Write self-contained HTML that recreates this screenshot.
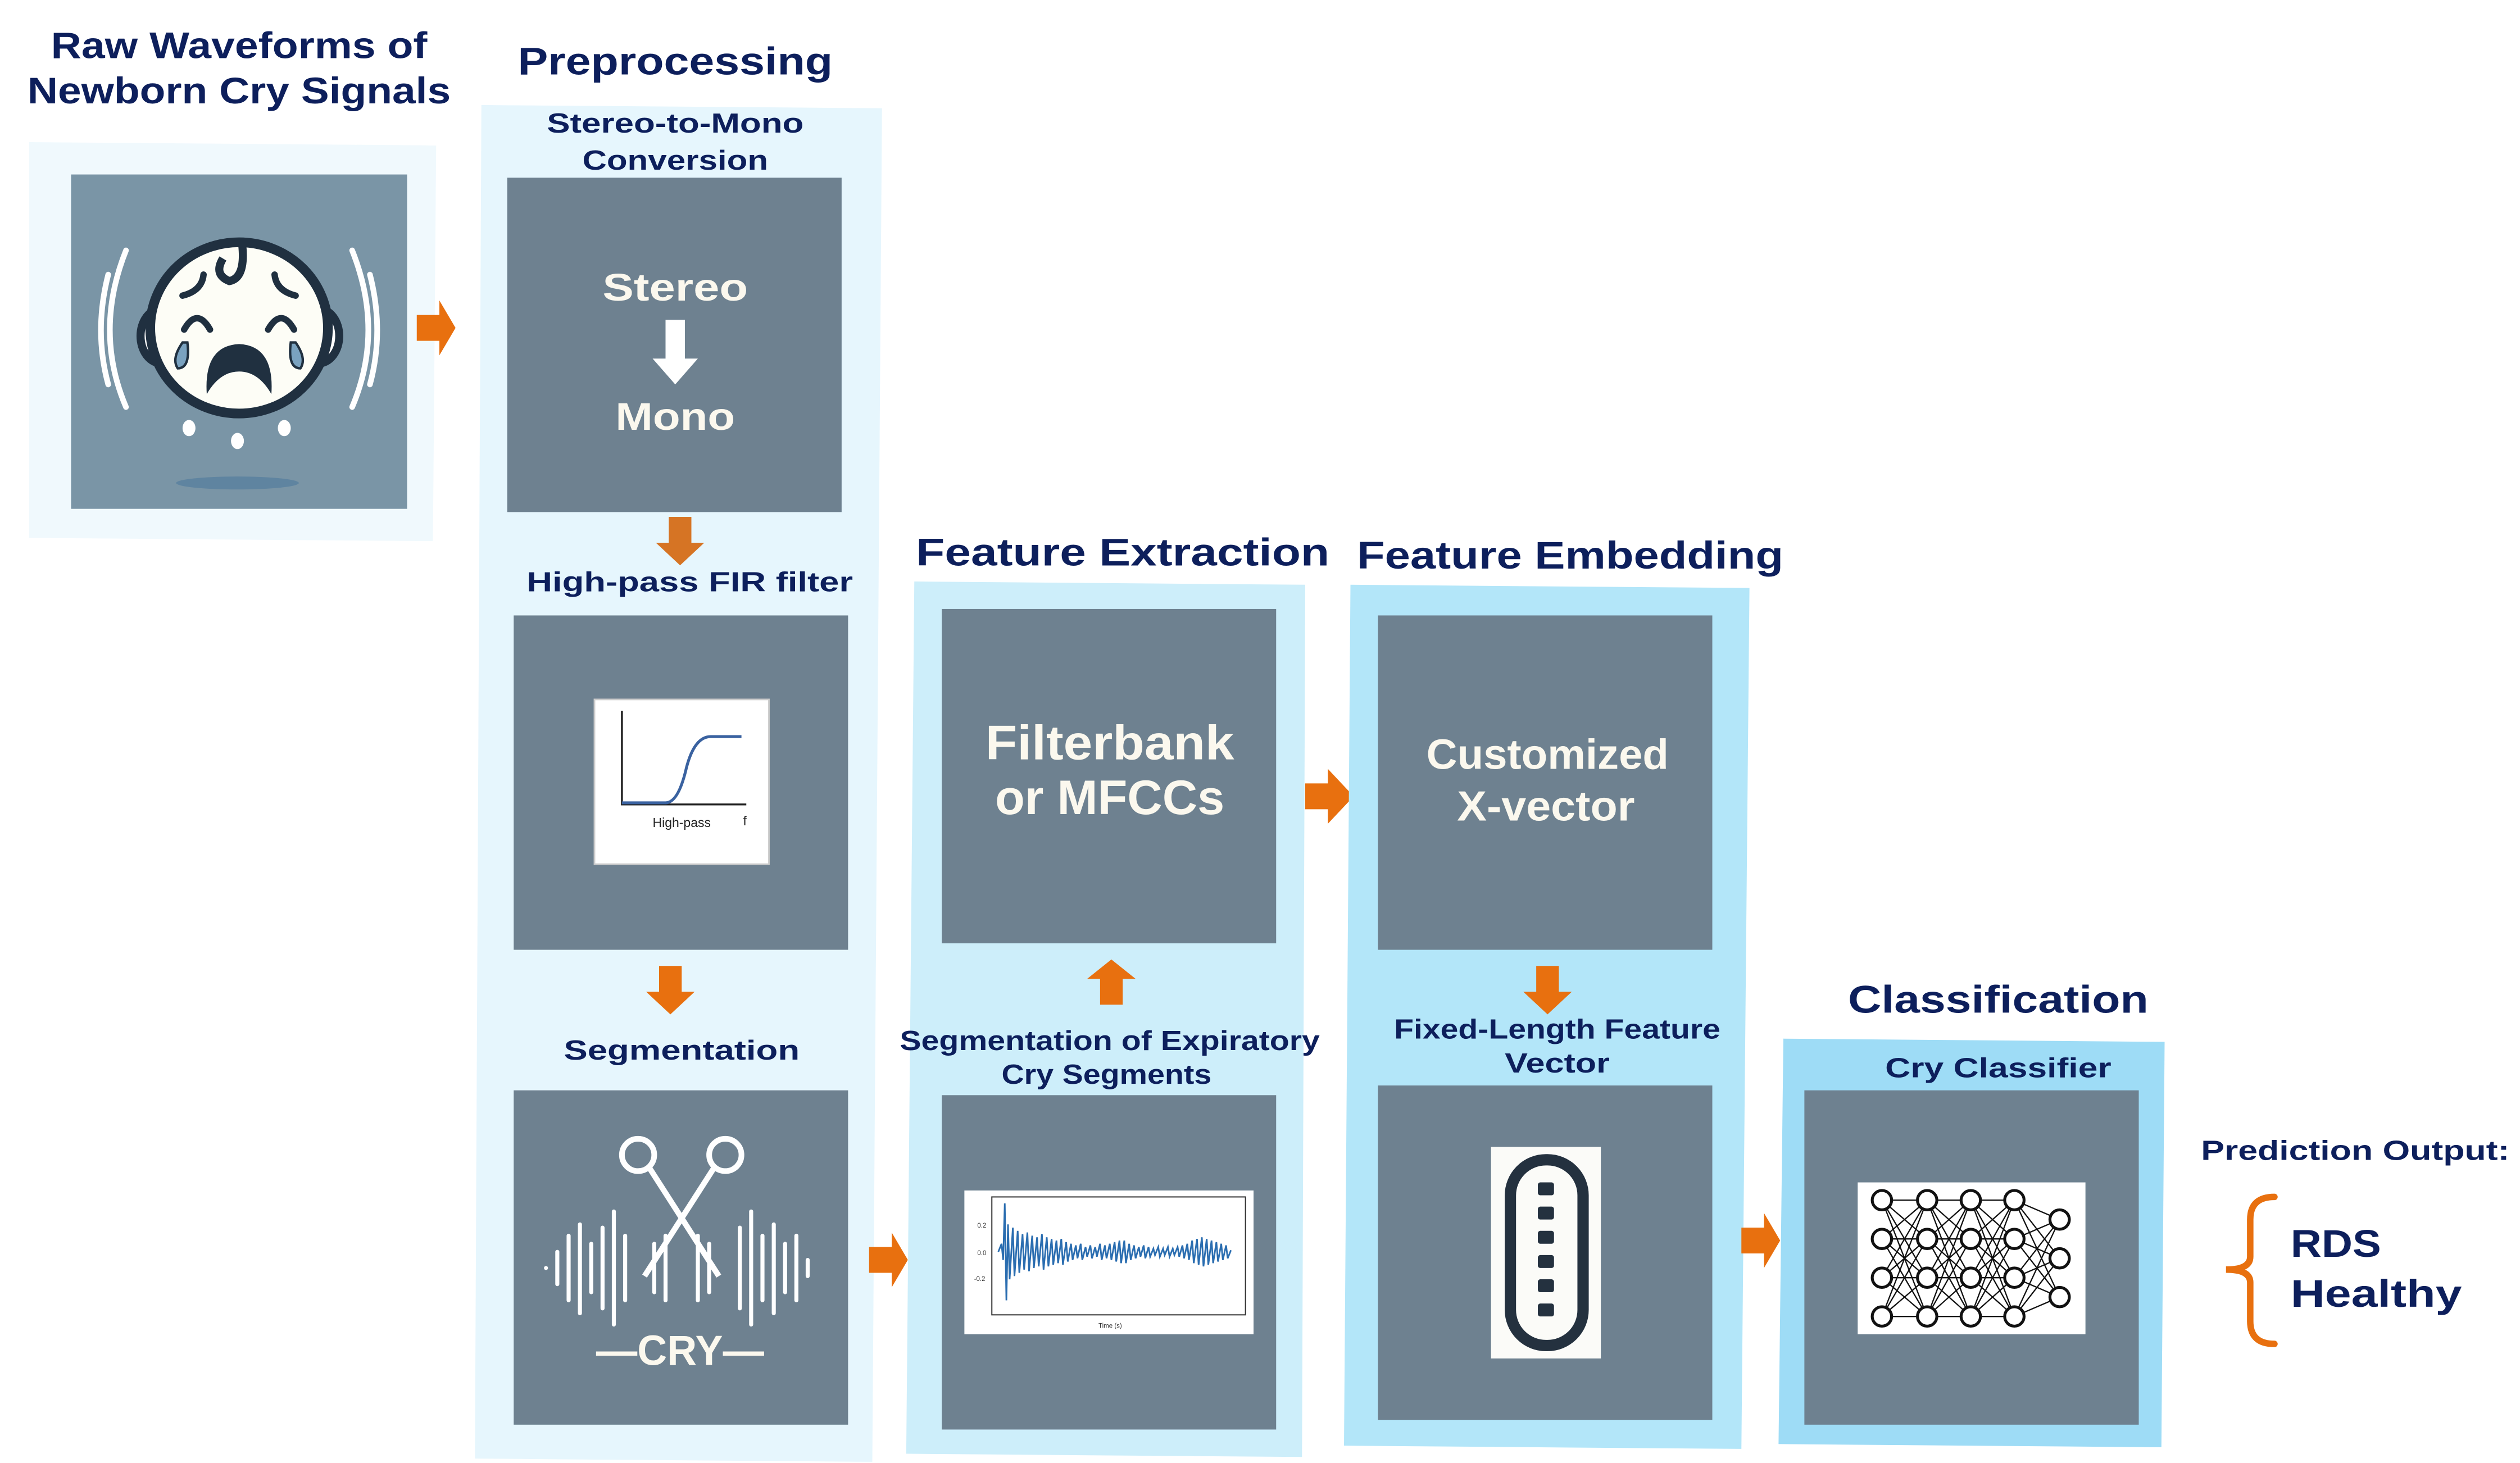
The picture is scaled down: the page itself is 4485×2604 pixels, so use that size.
<!DOCTYPE html>
<html><head><meta charset="utf-8"><style>html,body{margin:0;padding:0;background:#fff}svg{display:block}</style></head>
<body>
<svg width="4485" height="2604" viewBox="0 0 1560 905.7" xmlns="http://www.w3.org/2000/svg">
<defs>
<style>
.t{font-family:"Liberation Sans Narrow","Liberation Sans",sans-serif;font-weight:bold;fill:#0d1f5c}
.w{font-family:"Liberation Sans Narrow","Liberation Sans",sans-serif;font-weight:bold;fill:#fbf8ee}
</style>
<g id="ra"><path d="M0,-8 L14,-8 L14,-17 L24,0 L14,17 L14,8 L0,8 Z" fill="#e8700f"/></g>
</defs>
<rect width="1560" height="905.7" fill="#fff"/>

<!-- Raw waveforms -->
<text class="t" x="148" y="36" font-size="23" text-anchor="middle" textLength="233" lengthAdjust="spacingAndGlyphs">Raw Waveforms of</text>
<text class="t" x="148" y="64" font-size="23" text-anchor="middle" textLength="262" lengthAdjust="spacingAndGlyphs">Newborn Cry Signals</text>
<polygon points="18,88 270,90 268,335 18,333" fill="#f0f9fd"/>
<rect x="44" y="108" width="208" height="207" fill="#7a95a6"/>
<g fill="none" stroke="#fff" stroke-width="3.5" stroke-linecap="round">
<path d="M78,155 Q58,205 78,252"/><path d="M67,170 Q58,205 67,238"/>
<path d="M218,155 Q238,205 218,252"/><path d="M229,170 Q238,205 229,238"/>
</g>
<ellipse cx="100" cy="208" rx="13" ry="17" fill="#fff" stroke="#203040" stroke-width="5"/>
<ellipse cx="197" cy="208" rx="13" ry="17" fill="#fff" stroke="#203040" stroke-width="5"/>
<ellipse cx="148" cy="203" rx="55" ry="53" fill="#fdfdf6" stroke="#203040" stroke-width="6"/>
<path d="M150,152 Q152,172 142,174 Q132,170 138,160" fill="none" stroke="#203040" stroke-width="5"/>
<g fill="none" stroke="#203040" stroke-width="4" stroke-linecap="round">
<path d="M113,183 Q125,180 126,170"/><path d="M183,183 Q171,180 170,170"/>
<path d="M114,204 Q122,190 130,204"/><path d="M166,204 Q174,190 182,204"/>
</g>
<path d="M128,244 Q126,214 148,213 Q170,214 168,244 Q160,230 148,230 Q136,230 128,244 Z" fill="#203040"/>
<path d="M113,212 Q106,222 110,228 Q118,228 116,212 Z" fill="#7aa2c0" stroke="#203040" stroke-width="1.5"/>
<path d="M183,212 Q190,222 186,228 Q178,228 180,212 Z" fill="#7aa2c0" stroke="#203040" stroke-width="1.5"/>
<ellipse cx="117" cy="265" rx="4" ry="5" fill="#fff"/><ellipse cx="147" cy="273" rx="4" ry="5" fill="#fff"/><ellipse cx="176" cy="265" rx="4" ry="5" fill="#fff"/>
<ellipse cx="147" cy="299" rx="38" ry="4" fill="#5f84a0"/>

<use href="#ra" x="258" y="203"/>

<!-- Preprocessing -->
<text class="t" x="418" y="46" font-size="24" text-anchor="middle" textLength="195" lengthAdjust="spacingAndGlyphs">Preprocessing</text>
<polygon points="298,65 546,67 540,905 294,903" fill="#e6f6fd"/>
<text class="t" x="418" y="82" font-size="17" text-anchor="middle" textLength="159" lengthAdjust="spacingAndGlyphs">Stereo-to-Mono</text>
<text class="t" x="418" y="105" font-size="17" text-anchor="middle" textLength="115" lengthAdjust="spacingAndGlyphs">Conversion</text>
<rect x="314" y="110" width="207" height="207" fill="#6e8190"/>
<text class="w" x="418" y="186" font-size="24" text-anchor="middle" textLength="90" lengthAdjust="spacingAndGlyphs" fill="#fff">Stereo</text>
<path d="M412,198 L424,198 L424,222 L432,222 L418,238 L404,222 L412,222 Z" fill="#fff"/>
<text class="w" x="418" y="266" font-size="24" text-anchor="middle" textLength="74" lengthAdjust="spacingAndGlyphs">Mono</text>
<path d="M414,320 L428,320 L428,336 L436,336 L421,350 L406,336 L414,336 Z" fill="#d67424"/>
<text class="t" x="427" y="366" font-size="17" text-anchor="middle" textLength="202" lengthAdjust="spacingAndGlyphs">High-pass FIR filter</text>
<rect x="318" y="381" width="207" height="207" fill="#6e8190"/>
<rect x="368" y="433" width="108" height="102" fill="#fff" stroke="#ccc" stroke-width="1"/>
<path d="M385,440 L385,498 L462,498" fill="none" stroke="#222" stroke-width="1.2"/>
<path d="M385,497 L412,497 Q420,497 425,475 Q430,456 440,456 L459,456" fill="none" stroke="#3a62a0" stroke-width="1.8"/>
<text x="422" y="512" font-family="Liberation Sans,sans-serif" font-size="8" text-anchor="middle" fill="#222">High-pass</text>
<text x="460" y="511" font-family="Liberation Sans,sans-serif" font-size="8" fill="#222">f</text>
<path d="M408,598 L422,598 L422,614 L430,614 L415,628 L400,614 L408,614 Z" fill="#e8700f"/>
<text class="t" x="422" y="656" font-size="17" text-anchor="middle" textLength="146" lengthAdjust="spacingAndGlyphs">Segmentation</text>
<rect x="318" y="675" width="207" height="207" fill="#6e8190"/>
<g fill="none" stroke="#fff" stroke-width="3.5">
<circle cx="395" cy="715" r="10"/><circle cx="449" cy="715" r="10"/>
<path d="M402,723 L445,790"/><path d="M442,723 L399,790"/>
</g>
<g stroke="#fff" stroke-width="2.5" stroke-linecap="round">
<path d="M338,785 v0 M345,775 v20 M352,765 v40 M359,758 v55 M366,770 v30 M373,760 v50 M380,750 v70 M387,765 v40"/>
<path d="M458,760 v50 M465,750 v70 M472,765 v40 M479,758 v55 M486,770 v30 M493,765 v40 M500,780 v10"/>
<path d="M405,770 v30 M412,765 v40 M432,765 v40 M439,770 v30"/>
</g>
<text class="w" x="421" y="845" font-size="26" text-anchor="middle" fill="#e8edf0" textLength="104" lengthAdjust="spacingAndGlyphs">—CRY—</text>

<use href="#ra" x="538" y="780"/>

<!-- Feature Extraction -->
<text class="t" x="695" y="350" font-size="24" text-anchor="middle" textLength="256" lengthAdjust="spacingAndGlyphs">Feature Extraction</text>
<polygon points="566,360 808,362 806,902 561,900" fill="#cdeefa"/>
<rect x="583" y="377" width="207" height="207" fill="#6e8190"/>
<text class="w" x="687" y="470" font-size="30" text-anchor="middle" textLength="154" lengthAdjust="spacingAndGlyphs">Filterbank</text>
<text class="w" x="687" y="504" font-size="30" text-anchor="middle" textLength="142" lengthAdjust="spacingAndGlyphs">or MFCCs</text>
<path d="M681,622 L695,622 L695,606 L703,606 L688,594 L673,606 L681,606 Z" fill="#e8700f"/>
<text class="t" x="687" y="650" font-size="17" text-anchor="middle" textLength="260" lengthAdjust="spacingAndGlyphs">Segmentation of Expiratory</text>
<text class="t" x="685" y="671" font-size="17" text-anchor="middle" textLength="130" lengthAdjust="spacingAndGlyphs">Cry Segments</text>
<rect x="583" y="678" width="207" height="207" fill="#6e8190"/>
<rect x="597" y="737" width="179" height="89" fill="#fff"/>
<rect x="614" y="741" width="157" height="73" fill="none" stroke="#333" stroke-width="0.7"/>
<polyline fill="none" stroke="#2a6db0" stroke-width="1" points="618,775 620,770 621,780 622,745 623,805 624,758 625,792 627,760 628,790 630,762 631,788 633,764 634,786 636,763 637,787 639,765 640,785 642,766 643,784 645,764 646,786 648,766 649,784 651,767 652,783 654,768 655,782 657,767 658,783 660,769 661,781 663,770 664,780 666,771 667,779 669,770 670,780 672,772 673,778 675,771 676,779 678,772 679,778 681,770 682,780 684,771 685,779 687,770 688,780 690,769 691,781 693,768 694,782 696,768 697,782 699,770 700,780 702,771 703,779 705,772 706,778 708,771 709,779 711,772 712,778 714,773 715,777 717,772 718,778 720,773 721,777 723,772 724,778 726,773 727,777 729,772 730,778 732,771 733,779 735,770 736,780 738,768 739,782 741,767 742,783 744,766 745,784 747,767 748,783 750,768 751,782 753,769 754,781 756,770 757,780 759,771 760,779 762,774"/>
<g font-family="Liberation Sans,sans-serif" font-size="4" fill="#333"><text x="605" y="760">0.2</text><text x="605" y="777">0.0</text><text x="603" y="793">-0.2</text><text x="680" y="822">Time (s)</text></g>

<path d="M808,485 L822,485 L822,476 L838,493 L822,510 L822,501 L808,501 Z" fill="#e8700f"/>

<!-- Feature Embedding -->
<text class="t" x="972" y="352" font-size="24" text-anchor="middle" textLength="264" lengthAdjust="spacingAndGlyphs">Feature Embedding</text>
<polygon points="836,362 1083,364 1078,897 832,895" fill="#b3e6f9"/>
<rect x="853" y="381" width="207" height="207" fill="#6e8190"/>
<text class="w" x="958" y="476" font-size="26" text-anchor="middle" textLength="150" lengthAdjust="spacingAndGlyphs" fill="#fff">Customized</text>
<text class="w" x="957" y="508" font-size="26" text-anchor="middle" textLength="110" lengthAdjust="spacingAndGlyphs" fill="#fff">X-vector</text>
<path d="M951,598 L965,598 L965,614 L973,614 L958,628 L943,614 L951,614 Z" fill="#e8700f"/>
<text class="t" x="964" y="643" font-size="17" text-anchor="middle" textLength="202" lengthAdjust="spacingAndGlyphs">Fixed-Length Feature</text>
<text class="t" x="964" y="664" font-size="17" text-anchor="middle" textLength="65" lengthAdjust="spacingAndGlyphs">Vector</text>
<rect x="853" y="672" width="207" height="207" fill="#6e8190"/>
<rect x="923" y="710" width="68" height="131" fill="#fbfbf8"/>
<rect x="935" y="718" width="45" height="115" rx="22" fill="none" stroke="#24313f" stroke-width="7"/>
<g fill="#24313f"><rect x="952" y="732" width="10" height="8" rx="1.5"/><rect x="952" y="747" width="10" height="8" rx="1.5"/><rect x="952" y="762" width="10" height="8" rx="1.5"/><rect x="952" y="777" width="10" height="8" rx="1.5"/><rect x="952" y="792" width="10" height="8" rx="1.5"/><rect x="952" y="807" width="10" height="8" rx="1.5"/></g>

<use href="#ra" x="1078" y="768"/>

<!-- Classification -->
<text class="t" x="1237" y="627" font-size="24" text-anchor="middle" textLength="186" lengthAdjust="spacingAndGlyphs">Classification</text>
<polygon points="1104,643 1340,645 1338,896 1101,894" fill="#9edcf6"/>
<text class="t" x="1237" y="667" font-size="17" text-anchor="middle" textLength="140" lengthAdjust="spacingAndGlyphs">Cry Classifier</text>
<rect x="1117" y="675" width="207" height="207" fill="#6e8190"/>
<rect x="1150" y="732" width="141" height="94" fill="#fff"/>
<g stroke="#111" stroke-width="0.8" fill="none">
<path d="M1165,743 L1193,743 M1165,743 L1193,767 M1165,743 L1193,791 M1165,743 L1193,815 M1165,767 L1193,743 M1165,767 L1193,767 M1165,767 L1193,791 M1165,767 L1193,815 M1165,791 L1193,743 M1165,791 L1193,767 M1165,791 L1193,791 M1165,791 L1193,815 M1165,815 L1193,743 M1165,815 L1193,767 M1165,815 L1193,791 M1165,815 L1193,815"/>
<path d="M1193,743 L1220,743 M1193,743 L1220,767 M1193,743 L1220,791 M1193,743 L1220,815 M1193,767 L1220,743 M1193,767 L1220,767 M1193,767 L1220,791 M1193,767 L1220,815 M1193,791 L1220,743 M1193,791 L1220,767 M1193,791 L1220,791 M1193,791 L1220,815 M1193,815 L1220,743 M1193,815 L1220,767 M1193,815 L1220,791 M1193,815 L1220,815"/>
<path d="M1220,743 L1247,743 M1220,743 L1247,767 M1220,743 L1247,791 M1220,743 L1247,815 M1220,767 L1247,743 M1220,767 L1247,767 M1220,767 L1247,791 M1220,767 L1247,815 M1220,791 L1247,743 M1220,791 L1247,767 M1220,791 L1247,791 M1220,791 L1247,815 M1220,815 L1247,743 M1220,815 L1247,767 M1220,815 L1247,791 M1220,815 L1247,815"/>
<path d="M1247,743 L1275,755 M1247,743 L1275,779 M1247,743 L1275,803 M1247,767 L1275,755 M1247,767 L1275,779 M1247,767 L1275,803 M1247,791 L1275,755 M1247,791 L1275,779 M1247,791 L1275,803 M1247,815 L1275,755 M1247,815 L1275,779 M1247,815 L1275,803"/>
</g>
<g fill="#fff" stroke="#111" stroke-width="1.8">
<circle cx="1165" cy="743" r="6"/><circle cx="1165" cy="767" r="6"/><circle cx="1165" cy="791" r="6"/><circle cx="1165" cy="815" r="6"/>
<circle cx="1193" cy="743" r="6"/><circle cx="1193" cy="767" r="6"/><circle cx="1193" cy="791" r="6"/><circle cx="1193" cy="815" r="6"/>
<circle cx="1220" cy="743" r="6"/><circle cx="1220" cy="767" r="6"/><circle cx="1220" cy="791" r="6"/><circle cx="1220" cy="815" r="6"/>
<circle cx="1247" cy="743" r="6"/><circle cx="1247" cy="767" r="6"/><circle cx="1247" cy="791" r="6"/><circle cx="1247" cy="815" r="6"/>
<circle cx="1275" cy="755" r="6"/><circle cx="1275" cy="779" r="6"/><circle cx="1275" cy="803" r="6"/>
</g>

<!-- Prediction -->
<text class="t" x="1458" y="718" font-size="17" text-anchor="middle" textLength="191" lengthAdjust="spacingAndGlyphs">Prediction Output:</text>
<path d="M1408,741 Q1393,741 1393,755 L1393,778 Q1393,786 1378,786 Q1393,786 1393,794 L1393,818 Q1393,832 1408,832" fill="none" stroke="#e8700f" stroke-width="4" stroke-linecap="round"/>
<text class="t" x="1418" y="778" font-size="24" textLength="56" lengthAdjust="spacingAndGlyphs">RDS</text>
<text class="t" x="1418" y="809" font-size="24" textLength="106" lengthAdjust="spacingAndGlyphs">Healthy</text>
</svg>
</body></html>
